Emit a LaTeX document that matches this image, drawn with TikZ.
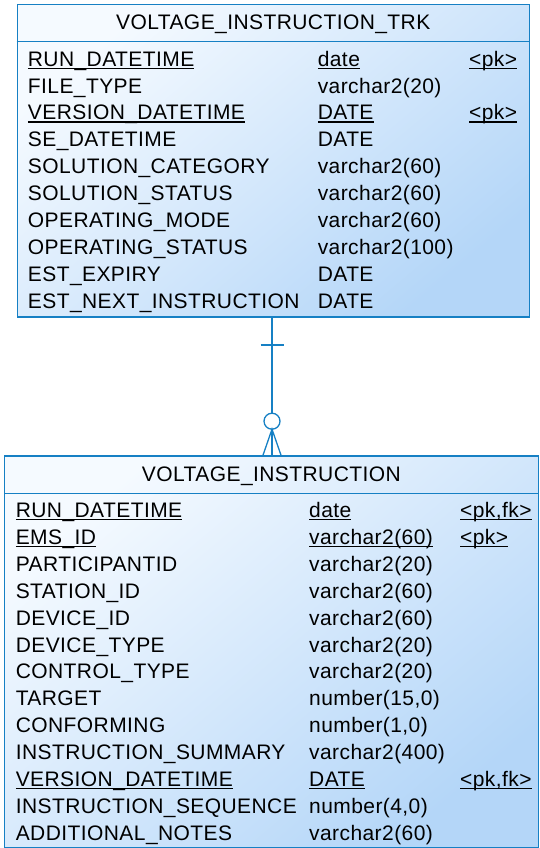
\documentclass[tikz,border=0pt]{standalone}
\usepackage{fontspec}
\setmainfont[LetterSpace=2]{Liberation Sans}
\usetikzlibrary{calc}
\definecolor{edge}{RGB}{22,128,196}
\definecolor{fillA}{RGB}{245,250,255}
\definecolor{fillB}{RGB}{180,214,248}
\newcommand\plainkey[1]{#1}
\newcommand\nokey{}
\newcommand\ulkey[1]{\setbox0\hbox{#1}\rlap{\rule[-2.6pt]{\wd0}{1.1pt}}\box0}
\begin{document}
\begin{tikzpicture}[x=1pt,y=-1pt,
  tbl/.style={draw=edge,line width=1.3pt,anchor=north west,inner sep=0pt,
    shading=axis,left color=fillA,right color=fillB,shading angle=40},
  txt/.style={anchor=base west,inner sep=0pt,font=\fontsize{21}{21}\selectfont},
  ttl/.style={anchor=base,inner sep=0pt,font=\fontsize{21}{21}\selectfont},
  conn/.style={draw=edge,line width=1.3pt}]
\useasboundingbox (0,0) rectangle (540,848);
% top table
\node[tbl,minimum width=512pt,minimum height=312pt] (trk) at (16.6,4.2) {};
\draw[edge,line width=1.3pt] ($(trk.north west)+(0,37.3)$) coordinate (trkhl) -- ($(trk.north east)+(0,37.3)$) coordinate (trkhr);
\node[ttl] (trktitle) at ($(trk.north)+(0,25.2)$) {VOLTAGE\_INSTRUCTION\_TRK};
\foreach \n/\t/\k/\m [count=\i from 0] in {
  RUN\_DATETIME/date/<pk>/\ulkey,
  FILE\_TYPE/varchar2(20)/\nokey/\plainkey,
  VERSION\_DATETIME/DATE/<pk>/\ulkey,
  SE\_DATETIME/DATE/\nokey/\plainkey,
  SOLUTION\_CATEGORY/varchar2(60)/\nokey/\plainkey,
  SOLUTION\_STATUS/varchar2(60)/\nokey/\plainkey,
  OPERATING\_MODE/varchar2(60)/\nokey/\plainkey,
  OPERATING\_STATUS/varchar2(100)/\nokey/\plainkey,
  EST\_EXPIRY/DATE/\nokey/\plainkey,
  EST\_NEXT\_INSTRUCTION/DATE/\nokey/\plainkey}{
  \node[txt] (tn\i) at (27.7,66.2+26.9*\i) {\m{\n}};
  \node[txt] (tt\i) at (317.6,66.2+26.9*\i) {\m{\t}};
  \node[txt] (tk\i) at (469,66.2+26.9*\i) {\m{\k}};
}
% bottom table
\node[tbl,minimum width=533.5pt,minimum height=392pt] (vi) at (4,455.2) {};
\draw[edge,line width=1.3pt] ($(vi.north west)+(0,38)$) coordinate (vihl) -- ($(vi.north east)+(0,38)$) coordinate (vihr);
\node[ttl] (vititle) at ($(vi.north)+(0,25.8)$) {VOLTAGE\_INSTRUCTION};
\foreach \n/\t/\k/\m [count=\i from 0] in {
  RUN\_DATETIME/date/{<pk,fk>}/\ulkey,
  EMS\_ID/varchar2(60)/<pk>/\ulkey,
  PARTICIPANTID/varchar2(20)/\nokey/\plainkey,
  STATION\_ID/varchar2(60)/\nokey/\plainkey,
  DEVICE\_ID/varchar2(60)/\nokey/\plainkey,
  DEVICE\_TYPE/varchar2(20)/\nokey/\plainkey,
  CONTROL\_TYPE/varchar2(20)/\nokey/\plainkey,
  TARGET/{number(15,0)}/\nokey/\plainkey,
  CONFORMING/{number(1,0)}/\nokey/\plainkey,
  INSTRUCTION\_SUMMARY/varchar2(400)/\nokey/\plainkey,
  VERSION\_DATETIME/DATE/{<pk,fk>}/\ulkey,
  INSTRUCTION\_SEQUENCE/{number(4,0)}/\nokey/\plainkey,
  ADDITIONAL\_NOTES/varchar2(60)/\nokey/\plainkey}{
  \node[txt] (bn\i) at (15.6,517.5+26.9*\i) {\m{\n}};
  \node[txt] (bt\i) at (309,517.5+26.9*\i) {\m{\t}};
  \node[txt] (bk\i) at (460,517.5+26.9*\i) {\m{\k}};
}
% relationship
\coordinate (cx) at (272,0);
\coordinate (top) at (cx |- trk.south);
\coordinate (bot) at (cx |- vi.north);
\draw[conn] (top) -- (bot);
\draw[conn] ($(top)+(-11.5,27.5)$) -- ($(top)+(11.5,27.5)$);
\draw[conn,fill=white] ($(bot)+(0,-34)$) circle[radius=8];
\draw[conn] ($(bot)+(-9,0)$) -- ($(bot)+(0,-26)$) -- ($(bot)+(9,0)$);
\end{tikzpicture}
\end{document}
